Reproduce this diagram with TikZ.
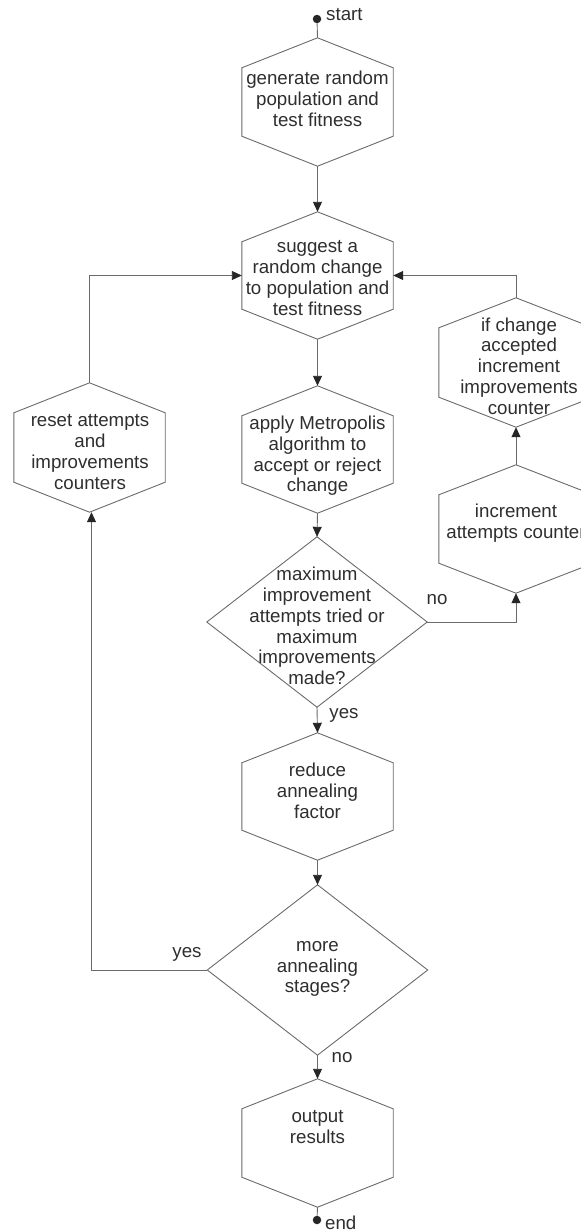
\documentclass[tikz,border=0pt]{standalone}
\usepackage{fontspec}
\setmainfont{Liberation Sans}
\usetikzlibrary{arrows.meta}
\definecolor{txt}{HTML}{2E2E2E}
\definecolor{ln}{HTML}{6A6A6A}
\tikzset{
  shapeline/.style={draw=ln, line width=0.9pt, line join=miter},
  conn/.style={draw=ln, line width=0.9pt},
  flow/.style={conn, -{Triangle[length=10pt,width=9pt,color=black!85]}},
  box/.style={rectangle, draw=none, inner sep=0pt},
  txtnode/.style={align=center, inner sep=0pt, text=txt, font=\fontsize{18.7}{20.7}\selectfont},
  lbl/.style={inner sep=0pt, text=txt, font=\fontsize{18.7}{20.7}\selectfont},
  dot/.style={circle, fill=black!85, draw=none, inner sep=0pt, minimum size=8.5pt},
}
\newcommand\drawhex[2]{\draw[shapeline] (#1.north) -- ([yshift=-#2]#1.north east) -- ([yshift=#2]#1.south east) -- (#1.south) -- ([yshift=#2]#1.south west) -- ([yshift=-#2]#1.north west) -- cycle;}
\newcommand\drawdiam[1]{\draw[shapeline] (#1.north) -- (#1.east) -- (#1.south) -- (#1.west) -- cycle;}
\begin{document}
\begin{tikzpicture}[x=1pt,y=-1pt]
\path[use as bounding box] (0,0) rectangle (581,1232);
\clip (0,0) rectangle (581,1232);
% hexagon boxes
\node[box, minimum width=151pt, minimum height=128pt] (gen) at (317.5,102) {};
\node[box, minimum width=151pt, minimum height=127pt] (sug) at (317.5,275.5) {};
\node[box, minimum width=151pt, minimum height=127pt] (app) at (317.5,449.5) {};
\node[box, minimum width=151pt, minimum height=127pt] (red) at (317.5,796.5) {};
\node[box, minimum width=151pt, minimum height=128pt] (out) at (317.5,1143) {};
\node[box, minimum width=151pt, minimum height=129pt] (reset) at (89.5,447.5) {};
\node[box, minimum width=154pt, minimum height=129pt] (ifc) at (516,362.5) {};
\node[box, minimum width=154pt, minimum height=128pt] (inc) at (516,529) {};
\node[box, minimum width=220pt, minimum height=170pt] (d1) at (317,622) {};
\node[box, minimum width=220pt, minimum height=170pt] (d2) at (317.5,970) {};
\foreach \n in {gen,sug,app,red,out,reset,ifc,inc} {\drawhex{\n}{30pt}}
\drawdiam{d1}
\drawdiam{d2}
% texts
\node[txtnode] (gent) at (317.5,99) {generate random\\population and\\test fitness};
\node[txtnode] (sugt) at (317.5,278) {suggest a\\random change\\to population and\\test fitness};
\node[txtnode] (appt) at (317.5,456) {apply Metropolis\\algorithm to\\accept or reject\\change};
\node[txtnode] (resett) at (90,452) {reset attempts\\and\\improvements\\counters};
\node[txtnode] (ifct) at (519,366) {if change\\accepted\\increment\\improvements\\counter};
\node[txtnode] (inct) at (516,523) {increment\\attempts counter};
\node[txtnode] (d1t) at (317,626) {maximum\\improvement\\attempts tried or\\maximum\\improvements\\made?};
\node[txtnode] (redt) at (317.5,791) {reduce\\annealing\\factor};
\node[txtnode] (d2t) at (317.5,969) {more\\annealing\\stages?};
\node[txtnode] (outt) at (317.5,1127) {output\\results};
% terminals
\node[dot] (start) at (317,19) {};
\node[dot] (end) at (317,1220) {};
\node[lbl, anchor=west] (startl) at (326,15) {start};
\node[lbl, anchor=west] (endl) at (325,1223) {end};
% connectors
\draw[conn] (start) -- (gen.north);
\draw[flow] (gen.south) -- (sug.north);
\draw[flow] (sug.south) -- (app.north);
\draw[flow] (app.south) -- (d1.north);
\draw[flow] (d1.south) -- (red.north);
\draw[flow] (d1.east) -| (inc.south);
\draw[flow] (inc.north) -- (ifc.south);
\draw[flow] (ifc.north) |- (sug.east);
\draw[flow] (red.south) -- (d2.north);
\draw[flow] (d2.south) -- (out.north);
\draw[flow] (d2.west) -| ([xshift=2pt]reset.south);
\draw[flow] (reset.north) |- (sug.west);
\draw[conn] (out.south) -- (end);
% labels
\node[lbl] (no1) at (437,600) {no};
\node[lbl] (yes1) at (344,715) {yes};
\node[lbl] (yes2) at (187,954) {yes};
\node[lbl] (no2) at (342,1058) {no};
\end{tikzpicture}
\end{document}
